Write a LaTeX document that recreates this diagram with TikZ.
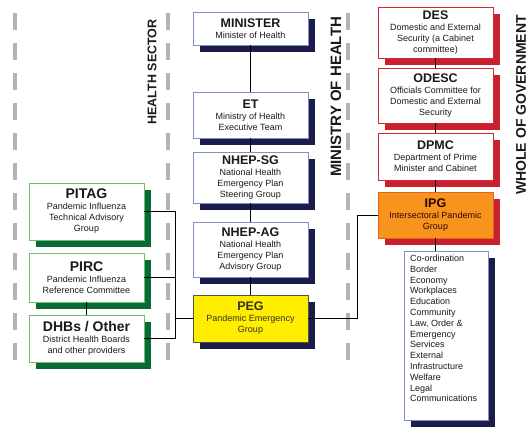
\documentclass[tikz,border=0pt]{standalone}
\usepackage{fontspec}
\setmainfont{Liberation Sans}
\usetikzlibrary{shadows}
\definecolor{navy}{HTML}{1C1C4C}
\definecolor{bluebord}{HTML}{7F8FC8}
\definecolor{greenbord}{HTML}{6CC070}
\definecolor{greenshad}{HTML}{0A6A35}
\definecolor{redbord}{HTML}{D42A36}
\definecolor{redshad}{HTML}{C8202F}
\definecolor{ipgfill}{HTML}{F7941D}
\definecolor{ipgbord}{HTML}{E8601C}
\definecolor{pegfill}{HTML}{FFEE00}
\definecolor{pegbord}{HTML}{555533}
\definecolor{txt}{HTML}{1A1A1A}
\definecolor{dashgray}{HTML}{B3B3B3}
\newcommand\ttl[1]{{\fontsize{12.5}{14}\selectfont\bfseries #1}}
\newcommand\gttl[1]{{\fontsize{14}{15}\selectfont\bfseries #1}}
\tikzset{
  orgbox/.style={draw, fill=white, line width=0.8pt, minimum width=115pt,
    align=center, inner sep=1pt, text=txt, font=\fontsize{9}{11}\selectfont},
  bluebox/.style={orgbox, draw=bluebord,
    general shadow={fill=navy, shadow xshift=7pt, shadow yshift=-7pt}},
  redbox/.style={orgbox, draw=redbord,
    general shadow={fill=redshad, shadow xshift=7pt, shadow yshift=-7pt}},
  greenbox/.style={orgbox, draw=greenbord,
    general shadow={fill=greenshad, shadow xshift=7pt, shadow yshift=-7pt}},
  sectorline/.style={draw=dashgray, line width=4pt, dash pattern=on 17pt off 13pt},
  sectorlabel/.style={rotate=90, text=txt, inner sep=0pt},
  conn/.style={draw=black, line width=0.9pt},
}
\begin{document}
\begin{tikzpicture}[x=1pt, y=-1pt]
\useasboundingbox (0,0) rectangle (531,429);
% sector dashed lines
\draw[sectorline] (15,13) -- (15,365);
\draw[sectorline] (168,13) -- (168,365);
\draw[sectorline] (348,13) -- (348,365);
% sector labels
\node[sectorlabel, font=\fontsize{12.5}{14}\selectfont\bfseries] (lhs) at (152,72) {HEALTH SECTOR};
\node[sectorlabel, font=\fontsize{15}{17}\selectfont\bfseries] (lmoh) at (336,97) {MINISTRY OF HEALTH};
\node[sectorlabel, font=\fontsize{14}{16}\selectfont\bfseries] (lwog) at (521,105) {WHOLE OF GOVERNMENT};
% Ministry of Health column
\node[bluebox, minimum height=33pt] (min) at (250.5,28.5) {\ttl{MINISTER}\\Minister of Health};
\node[bluebox, minimum height=46pt] (et) at (250.5,115) {\ttl{ET}\\Ministry of Health\\Executive Team};
\node[bluebox, minimum height=51pt] (sg) at (250.5,177.5) {\ttl{NHEP-SG}\\National Health\\Emergency Plan\\Steering Group};
\node[bluebox, minimum height=55pt] (ag) at (250.5,249.5) {\ttl{NHEP-AG}\\National Health\\Emergency Plan\\Advisory Group};
\node[bluebox, draw=pegbord, fill=pegfill, minimum height=47pt, text=black!85!olive] (peg) at (250.5,318.5) {\ttl{PEG}\\Pandemic Emergency\\Group};
% Whole of government column
\node[redbox, minimum height=51pt] (des) at (435.5,32.5) {\ttl{DES}\\Domestic and External\\Security (a Cabinet\\committee)};
\node[redbox, minimum height=55pt] (odesc) at (435.5,95.5) {\ttl{ODESC}\\Officials Committee for\\Domestic and External\\Security};
\node[redbox, minimum height=47pt] (dpmc) at (435.5,156.5) {\ttl{DPMC}\\Department of Prime\\Minister and Cabinet};
\node[redbox, draw=ipgbord, fill=ipgfill, minimum height=46pt, text=black!80!red] (ipg) at (435.5,215) {\ttl{IPG}\\Intersectoral Pandemic\\Group};
\node[bluebox, minimum width=84pt, inner xsep=6pt, inner ysep=4pt, align=left] (list) at (446,335.5)
  {\parbox[t][161pt][t]{72pt}{\fontsize{9}{10.8}\selectfont
   Co-ordination\\Border\\Economy\\Workplaces\\Education\\Community\\Law, Order \&\\Emergency\\Services\\External\\Infrastructure\\Welfare\\Legal\\Communications}};
% Health sector column
\node[greenbox, minimum height=57pt] (pitag) at (86.5,211.5) {\gttl{PITAG}\\Pandemic Influenza\\Technical Advisory\\Group};
\node[greenbox, minimum height=49pt] (pirc) at (86.5,277.5) {\gttl{PIRC}\\Pandemic Influenza\\Reference Committee};
\node[greenbox, minimum height=47pt] (dhbs) at (86.5,338.5) {\gttl{DHBs / Other}\\District Health Boards\\and other providers};
% connectors
\draw[conn] (min) -- (et);
\draw[conn] (et) -- (sg);
\draw[conn] (sg) -- (ag);
\draw[conn] (ag) -- (peg);
\draw[conn] (des) -- (odesc);
\draw[conn] (odesc) -- (dpmc);
\draw[conn] (dpmc) -- (ipg);
\draw[conn] (ipg.south) -- (ipg.south |- list.north);
\coordinate (j1) at (357,0);
\draw[conn] (peg.east) -| (j1 |- ipg.west) -- (ipg.west);
\coordinate (j2) at (175,0);
\draw[conn] (pitag.east) -| (j2 |- dhbs.east) -- (dhbs.east);
\draw[conn] (pirc.east) -- (j2 |- pirc.east);
\draw[conn] (peg.west) -- (j2 |- peg.west);
\draw[conn] (pirc) -- (dhbs);
\end{tikzpicture}
\end{document}
